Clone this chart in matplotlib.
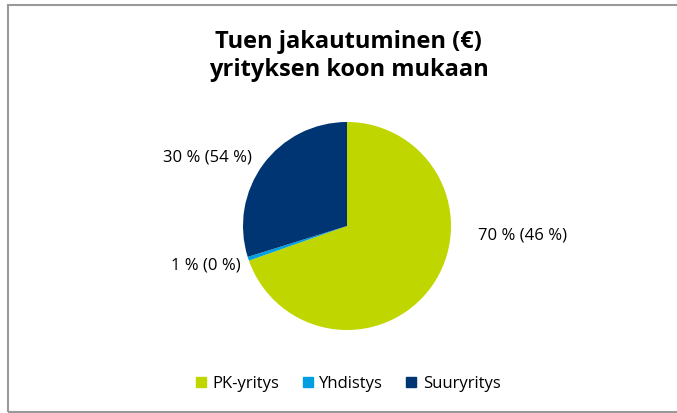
import matplotlib.pyplot as plt
from matplotlib.patches import Rectangle
from matplotlib.lines import Line2D

# Data
categories = ['PK-yritys', 'Yhdistys', 'Suuryritys']
shares = [69.6, 0.6, 29.8]  # % of support (€)
labels = ['70 % (46 %)', '1 % (0 %)', '30 % (54 %)']
colors = ['#bfd600', '#00a0e0', '#003574']

plt.rcParams['font.family'] = ['Open Sans', 'DejaVu Sans']

fig = plt.figure(figsize=(6.77, 4.13), dpi=100)
fig.patch.set_facecolor('white')

# outer chart border (right edge is cut off in the original)
fig.add_artist(Rectangle((8 / 677, 1 - 412 / 413), 1.05, (412 - 5) / 413,
                         transform=fig.transFigure, fill=False,
                         edgecolor='#999999', linewidth=1.5))

fig.text(0.515, 1 - 56 / 413, 'Tuen jakautuminen (€)\nyrityksen koon mukaan',
         ha='center', va='center', fontsize=17, fontweight='bold',
         linespacing=1.25)

# pie centred at (347, 226) px with radius ~104 px
r = 104
ax = fig.add_axes([(347 - r) / 677, 1 - (226 + r) / 413,
                   2 * r / 677, 2 * r / 413])
wedges, _ = ax.pie(shares, colors=colors, startangle=90, counterclock=False,
                   wedgeprops=dict(linewidth=0))
ax.set_aspect('auto')
ax.set_xlim(-1, 1)
ax.set_ylim(-1, 1)

# data labels (pixel positions of label centres)
label_pos = [(523, 236), (206, 265), (207, 158)]
for txt, (x, y) in zip(labels, label_pos):
    fig.text(x / 677, 1 - y / 413, txt, ha='center', va='center',
             fontsize=12)

handles = [Line2D([0], [0], marker='s', linestyle='', markersize=7,
                  markerfacecolor=c, markeredgecolor=c) for c in colors]
fig.legend(handles, categories, loc='center', ncol=3,
           bbox_to_anchor=(0.512, 1 - 384 / 413), frameon=False,
           fontsize=12, handletextpad=0.2, columnspacing=1.2,
           handlelength=1.0)

fig.savefig('out.png', dpi=100)
